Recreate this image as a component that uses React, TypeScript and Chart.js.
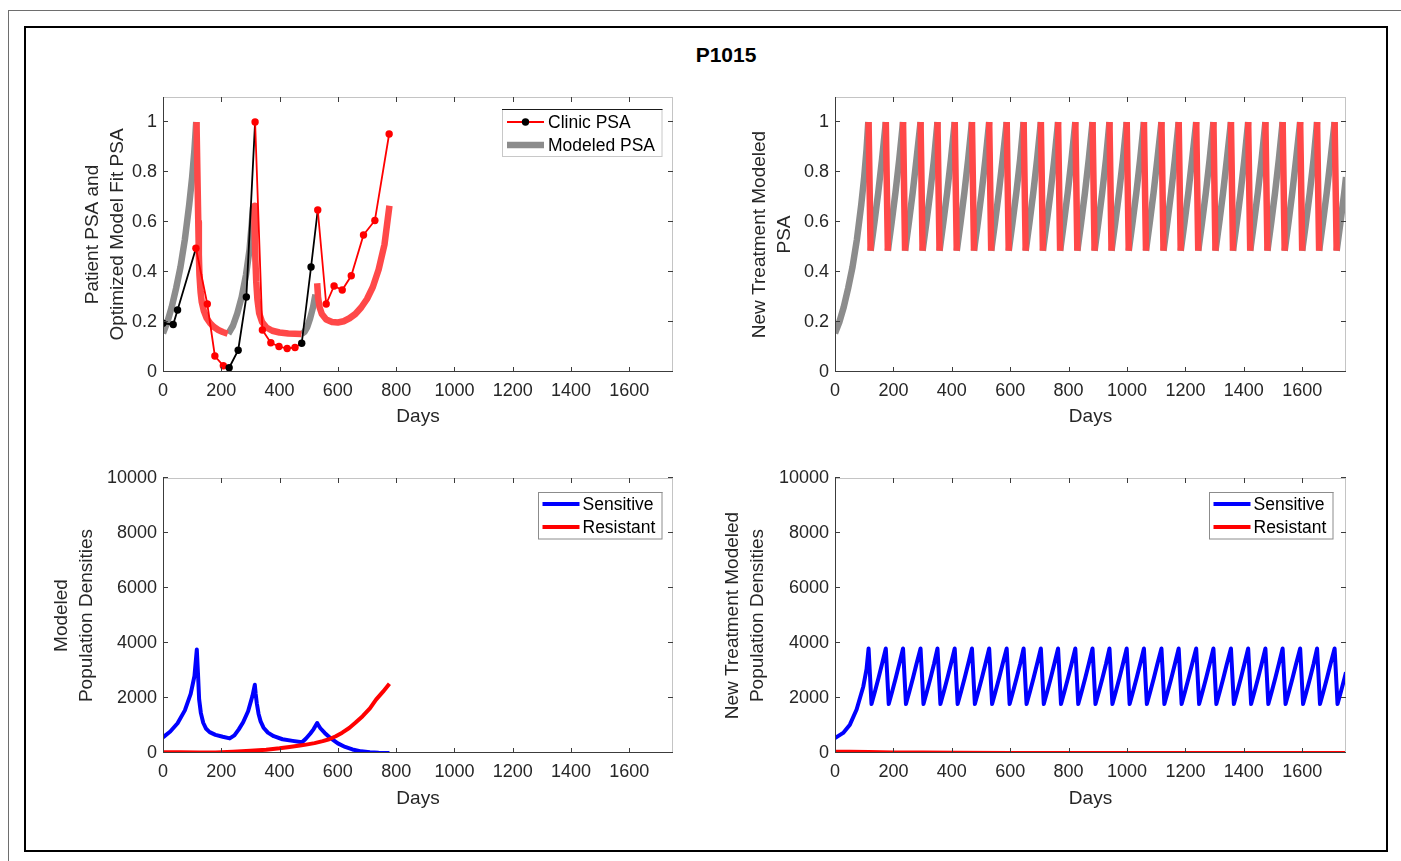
import React, { useEffect, useRef } from "react";
import { Chart, registerables } from "chart.js";

Chart.register(...registerables);

const FONT = '"Liberation Sans", Arial, Helvetica, sans-serif';
const TEXT = "#262626";

// ---- axis ticks and limits ----
const dayTicks = [0, 200, 400, 600, 800, 1000, 1200, 1400, 1600];
const psaTicks = [0, 0.2, 0.4, 0.6, 0.8, 1];
const popTicks = [0, 2000, 4000, 6000, 8000, 10000];
const dayMax = 1750;
const psaMax = 1.1;
const popMax = 10000;

// ---- clinic PSA (normalised) ----
const clinicDays = [0, 35, 50, 113, 152, 178, 207, 227, 258, 286, 316, 341, 370, 398, 426, 453, 476, 508, 531, 560, 587, 615, 646, 688, 727, 776];
const clinicPSA = [0.195, 0.19, 0.248, 0.495, 0.272, 0.064, 0.025, 0.017, 0.087, 0.3, 1.0, 0.168, 0.117, 0.102, 0.094, 0.098, 0.115, 0.42, 0.648, 0.272, 0.344, 0.328, 0.385, 0.548, 0.606, 0.952];
// on-treatment windows [start, end) in days
const treatmentWindows = [[113, 227], [316, 476], [531, 800]];

// ---- optimized model fit PSA ----
const fitOffDays = [
  [0, 15, 30, 45, 60, 75, 90, 100, 108, 114],
  [224, 240, 255, 270, 285, 297, 305, 309],
  [476, 485, 495, 505, 515, 523],
];
const fitOffPSA = [
  [0.155, 0.2, 0.26, 0.335, 0.42, 0.53, 0.67, 0.78, 0.89, 1.0],
  [0.153, 0.185, 0.235, 0.3, 0.39, 0.49, 0.6, 0.66],
  [0.152, 0.16, 0.18, 0.215, 0.26, 0.31],
];
const fitOnDays = [
  [115, 118, 121, 123, 125, 129, 133, 140, 150, 162, 175, 190, 205, 222],
  [313, 315, 317, 320, 324, 330, 340, 355, 375, 400, 430, 475],
  [529, 532, 537, 545, 560, 580, 600, 620, 640, 660, 680, 700, 720, 740, 760, 777],
];
const fitOnPSA = [
  [1.0, 0.8, 0.6, 0.47, 0.39, 0.32, 0.28, 0.245, 0.215, 0.195, 0.18, 0.168, 0.16, 0.153],
  [0.665, 0.55, 0.45, 0.36, 0.29, 0.235, 0.2, 0.178, 0.165, 0.158, 0.154, 0.152],
  [0.355, 0.3, 0.26, 0.232, 0.21, 0.2, 0.198, 0.203, 0.215, 0.232, 0.258, 0.292, 0.34, 0.41, 0.51, 0.665],
];

// ---- fitted population densities ----
const sensDays = [0, 25, 50, 75, 95, 108, 116, 120, 124, 130, 138, 148, 160, 180, 205, 229, 245, 260, 275, 292, 307, 315, 318, 322, 328, 335, 345, 360, 380, 410, 445, 477, 490, 505, 517, 529, 533, 540, 555, 575, 600, 625, 650, 680, 710, 740, 777];
const sensPop = [570, 780, 1080, 1550, 2150, 2800, 3760, 2900, 1950, 1450, 1100, 880, 760, 660, 590, 530, 640, 860, 1120, 1520, 2080, 2480, 2150, 1800, 1420, 1150, 920, 740, 610, 500, 440, 390, 520, 700, 870, 1090, 1010, 900, 730, 540, 350, 220, 130, 60, 25, 8, 0];
const resDays = [0, 60, 124, 180, 240, 300, 354, 400, 434, 470, 491, 520, 548, 570, 593, 615, 639, 660, 685, 710, 731, 755, 777];
const resPop = [30, 24, 14, 22, 45, 80, 120, 170, 218, 270, 305, 360, 430, 500, 610, 740, 910, 1100, 1340, 1620, 1940, 2230, 2520];

// ---- new treatment schedule: days at which each treatment cycle starts ----
const cycleDays = [115, 174, 233, 293, 351, 410, 469, 528, 588, 646, 705, 764, 823, 882, 940, 999, 1058, 1118, 1177, 1237, 1296, 1356, 1415, 1474, 1533, 1593, 1651, 1711];

// new treatment PSA: shared first rise, then one repeating cycle shape
const psaRiseDays = [0, 15, 30, 45, 60, 75, 90, 100, 108, 114];
const psaRise = [0.155, 0.2, 0.26, 0.335, 0.42, 0.53, 0.67, 0.78, 0.89, 1.0];
const psaPeak = 1.0;
const psaTrough = 0.485;
const psaDropDays = 7;
const psaCycleOffsets = [13, 26, 39];
const psaCycleValues = [0.598, 0.717, 0.851];
const psaEnd = 0.78;

// new treatment populations
const sensRiseDays = [0, 28, 51, 74, 97, 108, 115];
const sensRise = [545, 730, 1030, 1580, 2420, 3050, 3800];
const sensPeak = 3800;
const sensTrough = 1780;
const sensDropDays = 10;
const sensCycleOffsets = [12, 24, 36];
const sensCycleValues = [2245, 2730, 3235];
const sensEnd = 2940;
const resNewDays = [0, 50, 115, 200, 300, 420, 600, 900, 1300, 1750];
const resNewPop = [45, 42, 32, 22, 14, 8, 4, 2, 1, 0];

// ---- colours ----
const GREY = "#8c8c8c";
const FIT_RED = "rgb(255,72,72)";
const RED = "#ff0000";
const BLACK = "#000000";
const BLUE = "#0000ff";

type Pt = { x: number; y: number | null };
const pts = (days: number[], vals: number[]): Pt[] => days.map((d, i) => ({ x: d, y: vals[i] }));
const withGaps = (runs: Pt[][]): Pt[] =>
  runs.flatMap((r, i) => (i === 0 ? r : [{ x: r[0].x, y: null }, ...r]));

const onTreatment = (d: number) => treatmentWindows.some(([a, b]) => d >= a && d < b);

function cycleRun(k: number, peak: number, trough: number, drop: number, offs: number[], vals: number[], end: number): Pt[] {
  const t = cycleDays[k] + drop;
  const last = k < cycleDays.length - 1;
  const stop = last ? cycleDays[k + 1] : dayMax;
  const run: Pt[] = [{ x: t, y: trough }];
  offs.forEach((o, j) => {
    if (t + o < stop) run.push({ x: t + o, y: vals[j] });
  });
  run.push({ x: stop, y: last ? peak : end });
  return run;
}

const newPsaGrey = withGaps([
  pts(psaRiseDays, psaRise),
  ...cycleDays.map((_, k) => cycleRun(k, psaPeak, psaTrough, psaDropDays, psaCycleOffsets, psaCycleValues, psaEnd)),
]);
const newPsaRed = withGaps(cycleDays.map((d) => [{ x: d, y: psaPeak }, { x: d + psaDropDays, y: psaTrough }]));
const newSens: Pt[] = [
  ...pts(sensRiseDays, sensRise),
  ...cycleDays.flatMap((_, k) => cycleRun(k, sensPeak, sensTrough, sensDropDays, sensCycleOffsets, sensCycleValues, sensEnd)),
];

type LegendItem = { label: string; color: string; width: number; dot?: string };
type Legend = {
  box: [number, number, number, number];
  rows: number[];
  lineX: [number, number];
  textX: number;
  edge: string;
  topEdge: string;
  items: LegendItem[];
};
type Panel = {
  left: number;
  top: number;
  width: number;
  height: number;
  padTop: number;
  padRight: number;
  yWidth: number;
  xHeight: number;
  yTitle: string[];
  yMax: number;
  yTicks: number[];
  datasets: any[];
  legend?: Legend;
};

const thick = (data: Pt[], color: string, width: number) => ({
  data,
  borderColor: color,
  backgroundColor: color,
  borderWidth: width,
  pointRadius: 0,
  borderCapStyle: "butt",
  borderJoinStyle: "round",
  tension: 0,
  spanGaps: false,
});

const clinicSet = {
  data: pts(clinicDays, clinicPSA),
  borderColor: BLACK,
  borderWidth: 1.8,
  segment: {
    borderColor: (c: any) => (onTreatment((clinicDays[c.p0DataIndex] + clinicDays[c.p1DataIndex]) / 2) ? RED : BLACK),
  },
  pointRadius: 3.7,
  pointBorderWidth: 0,
  pointBackgroundColor: clinicDays.map((d) => (onTreatment(d) ? RED : BLACK)),
  pointBorderColor: clinicDays.map((d) => (onTreatment(d) ? RED : BLACK)),
  tension: 0,
};

const popLegend = (x: number): Legend => ({
  box: [x, 492, 124.5, 47.5],
  rows: [504, 527],
  lineX: [x + 4.5, x + 41.5],
  textX: x + 44.5,
  edge: "#8c8c8c",
  topEdge: "#8c8c8c",
  items: [
    { label: "Sensitive", color: BLUE, width: 4 },
    { label: "Resistant", color: RED, width: 4 },
  ],
});

const panels: Panel[] = [
  {
    left: 80, top: 85, width: 603, height: 342, padTop: 12, padRight: 10, yWidth: 83, xHeight: 55,
    yTitle: ["Patient PSA and", "Optimized Model Fit PSA"], yMax: psaMax, yTicks: psaTicks,
    datasets: [
      clinicSet,
      thick(withGaps(fitOnDays.map((d, i) => pts(d, fitOnPSA[i]))), FIT_RED, 6.5),
      thick(withGaps(fitOffDays.map((d, i) => pts(d, fitOffPSA[i]))), GREY, 6.5),
    ],
    legend: {
      box: [502, 109, 160.5, 48],
      rows: [122, 145],
      lineX: [507, 544],
      textX: 548,
      edge: "#c8c8c8",
      topEdge: "#1a1a1a",
      items: [
        { label: "Clinic PSA", color: RED, width: 1.8, dot: BLACK },
        { label: "Modeled PSA", color: GREY, width: 6.5 },
      ],
    },
  },
  {
    left: 747, top: 85, width: 609, height: 342, padTop: 12, padRight: 10, yWidth: 88, xHeight: 55,
    yTitle: ["New Treatment Modeled", "PSA"], yMax: psaMax, yTicks: psaTicks,
    datasets: [thick(newPsaRed, FIT_RED, 6.5), thick(newPsaGrey, GREY, 6.5)],
  },
  {
    left: 49, top: 466, width: 634, height: 343, padTop: 12, padRight: 10, yWidth: 114, xHeight: 56,
    yTitle: ["Modeled", "Population Densities"], yMax: popMax, yTicks: popTicks,
    datasets: [thick(pts(resDays, resPop), RED, 4), thick(pts(sensDays, sensPop), BLUE, 4)],
    legend: popLegend(538),
  },
  {
    left: 720, top: 466, width: 636, height: 343, padTop: 12, padRight: 10, yWidth: 115, xHeight: 56,
    yTitle: ["New Treatment Modeled", "Population Densities"], yMax: popMax, yTicks: popTicks,
    datasets: [thick(pts(resNewDays, resNewPop), RED, 4), thick(newSens, BLUE, 4)],
    legend: popLegend(1209),
  },
];

function PanelChart({ p }: { p: Panel }) {
  const ref = useRef<HTMLCanvasElement>(null);
  useEffect(() => {
    const canvas = ref.current;
    if (!canvas) return;
    const axesBox = {
      id: "axesBox",
      afterDraw(chart: any) {
        const { ctx, chartArea: a, scales } = chart;
        const L = Math.round(a.left), R = Math.round(a.right), T = Math.round(a.top), B = Math.round(a.bottom);
        ctx.save();
        ctx.lineWidth = 1;
        ctx.strokeStyle = "#c4c4c4";
        ctx.beginPath();
        ctx.moveTo(L, T + 0.5);
        ctx.lineTo(R, T + 0.5);
        ctx.moveTo(R - 0.5, T);
        ctx.lineTo(R - 0.5, B);
        ctx.stroke();
        ctx.strokeStyle = "#3c3c3c";
        ctx.beginPath();
        ctx.moveTo(L + 0.5, T);
        ctx.lineTo(L + 0.5, B);
        ctx.moveTo(L, B - 0.5);
        ctx.lineTo(R, B - 0.5);
        const tl = 5;
        for (const t of scales.x.ticks) {
          const px = Math.round(scales.x.getPixelForValue(t.value)) + 0.5;
          ctx.moveTo(px, B);
          ctx.lineTo(px, B - tl);
          ctx.moveTo(px, T);
          ctx.lineTo(px, T + tl);
        }
        for (const t of scales.y.ticks) {
          const py = Math.round(scales.y.getPixelForValue(t.value)) - 0.5;
          ctx.moveTo(L, py);
          ctx.lineTo(L + tl, py);
          ctx.moveTo(R, py);
          ctx.lineTo(R - tl, py);
        }
        ctx.stroke();

        const lg = p.legend;
        if (lg) {
          const ox = p.left, oy = p.top;
          const [bx, by, bw, bh] = lg.box;
          ctx.fillStyle = "#ffffff";
          ctx.fillRect(bx - ox, by - oy, bw, bh);
          ctx.strokeStyle = lg.edge;
          ctx.strokeRect(bx - ox + 0.5, by - oy + 0.5, bw - 1, bh - 1);
          ctx.strokeStyle = lg.topEdge;
          ctx.beginPath();
          ctx.moveTo(bx - ox, by - oy + 0.5);
          ctx.lineTo(bx - ox + bw, by - oy + 0.5);
          ctx.stroke();
          lg.items.forEach((it, i) => {
            const y = lg.rows[i] - oy;
            ctx.strokeStyle = it.color;
            ctx.lineWidth = it.width;
            ctx.lineCap = "butt";
            ctx.beginPath();
            ctx.moveTo(lg.lineX[0] - ox, y);
            ctx.lineTo(lg.lineX[1] - ox, y);
            ctx.stroke();
            if (it.dot) {
              ctx.fillStyle = it.dot;
              ctx.beginPath();
              ctx.arc((lg.lineX[0] + lg.lineX[1]) / 2 - ox, y, 3.7, 0, Math.PI * 2);
              ctx.fill();
            }
            ctx.fillStyle = "#000000";
            ctx.font = `17.5px ${FONT}`;
            ctx.textBaseline = "middle";
            ctx.textAlign = "left";
            ctx.fillText(it.label, lg.textX - ox, y + 1);
          });
        }
        ctx.restore();
      },
    };

    const tickFont = { family: FONT, size: 18 };
    const chart = new Chart(canvas, {
      type: "line",
      data: { datasets: p.datasets },
      plugins: [axesBox],
      options: {
        animation: false,
        responsive: true,
        maintainAspectRatio: false,
        devicePixelRatio: 1,
        events: [],
        layout: { padding: { top: p.padTop, right: p.padRight, bottom: 0, left: 0 } },
        plugins: { legend: { display: false }, tooltip: { enabled: false }, title: { display: false } },
        scales: {
          x: {
            type: "linear",
            min: 0,
            max: dayMax,
            afterBuildTicks: (s: any) => {
              s.ticks = dayTicks.map((v) => ({ value: v }));
            },
            afterFit: (s: any) => {
              s.height = p.xHeight;
              s.paddingLeft = 0;
              s.paddingRight = 0;
            },
            grid: { display: false, drawTicks: false },
            border: { display: false },
            ticks: { padding: 8, font: tickFont, color: TEXT, maxRotation: 0, autoSkip: false, callback: (v: any) => String(v) },
            title: { display: true, text: "Days", font: { family: FONT, size: 19, lineHeight: 1.1 }, color: TEXT, padding: 0 },
          },
          y: {
            type: "linear",
            min: 0,
            max: p.yMax,
            afterBuildTicks: (s: any) => {
              s.ticks = p.yTicks.map((v) => ({ value: v }));
            },
            afterFit: (s: any) => {
              s.width = p.yWidth;
              s.paddingTop = 0;
              s.paddingBottom = 0;
            },
            grid: { display: false, drawTicks: false },
            border: { display: false },
            ticks: { padding: 6, font: tickFont, color: TEXT, autoSkip: false, callback: (v: any) => String(v) },
            title: {
              display: true,
              text: p.yTitle,
              font: { family: FONT, size: 19, lineHeight: 25 / 19 },
              color: TEXT,
              padding: 0,
            },
          },
        },
      } as any,
    });
    return () => chart.destroy();
  }, [p]);
  return (
    <div style={{ position: "absolute", left: p.left, top: p.top, width: p.width, height: p.height }}>
      <canvas ref={ref} />
    </div>
  );
}

export default function App() {
  return (
    <div
      style={{
        position: "fixed",
        left: 0,
        top: 0,
        width: 1401,
        height: 861,
        background: "#ffffff",
        overflow: "hidden",
        fontFamily: FONT,
      }}
    >
      <div
        style={{
          position: "absolute",
          left: 8,
          top: 10,
          right: 0,
          bottom: 0,
          borderTop: "1px solid #6e6e6e",
          borderLeft: "1px solid #6e6e6e",
        }}
      />
      <div
        style={{
          position: "absolute",
          left: 24,
          top: 26,
          width: 1364,
          height: 826,
          border: "2px solid #000",
          boxSizing: "border-box",
        }}
      />
      <div
        style={{
          position: "absolute",
          left: 626,
          top: 42,
          width: 200,
          textAlign: "center",
          fontWeight: "bold",
          fontSize: 21,
          lineHeight: "26px",
          color: "#000",
        }}
      >
        P1015
      </div>
      {panels.map((p, i) => (
        <PanelChart key={i} p={p} />
      ))}
    </div>
  );
}
